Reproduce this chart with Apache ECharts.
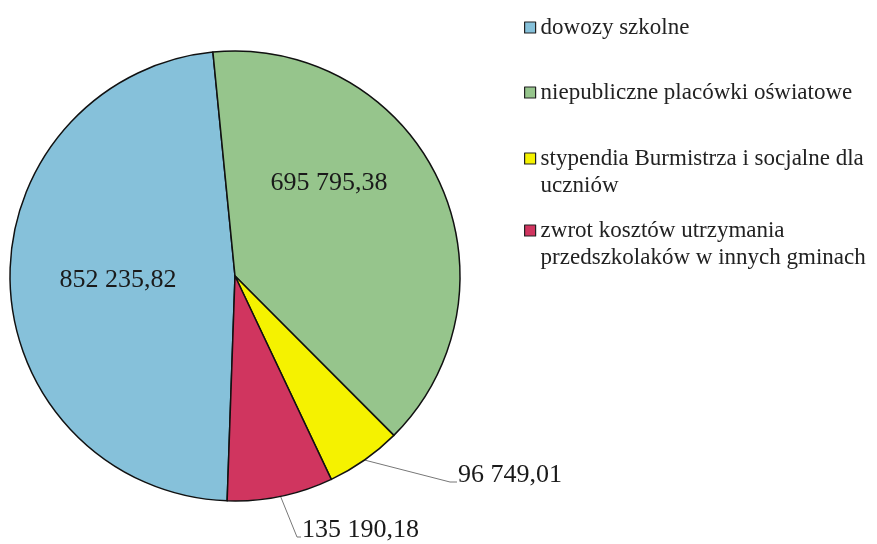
<!DOCTYPE html>
<html>
<head>
<meta charset="utf-8">
<script src="https://cdn.jsdelivr.net/npm/echarts@6/dist/echarts.min.js"></script>
<style>
  html, body { margin: 0; padding: 0; background: #fff; }
  #main { width: 877px; height: 544px; }
</style>
</head>
<body>
<div id="main"></div>
<script>
// dane z wykresu
const categories = [
  'dowozy szkolne',
  'niepubliczne placówki oświatowe',
  'stypendia Burmistrza i socjalne dla uczniów',
  'zwrot kosztów utrzymania przedszkolaków w innych gminach'
];
const values = [852235.82, 695795.38, 96749.01, 135190.18];
const legendTexts = [
  'dowozy szkolne',
  'niepubliczne placówki oświatowe',
  'stypendia Burmistrza i socjalne dla\nuczniów',
  'zwrot kosztów utrzymania\nprzedszkolaków w innych gminach'
];
const colors = ['#86c1da', '#96c58c', '#f5f200', '#d0355f'];

// polski format liczby: 852 235,82
function fmt(v) {
  let parts = v.toFixed(2).split('.');
  let int = parts[0].replace(/\B(?=(\d{3})+(?!\d))/g, ' ');
  return int + ',' + parts[1];
}

// gdzie stoją etykiety
const labelSpots = [
  {x: 118, y: 280, align: 'center'},
  {x: 329, y: 183, align: 'center'},
  {x: 458, y: 475, align: 'left', bend: [450, 482]},
  {x: 302, y: 530, align: 'left', bend: [297, 537]}
];
const legendTops = [14, 79, 118, 190];

let myChart = echarts.init(document.getElementById('main'));

let legends = categories.map(function (name, i) {
  // pusta linia na górze, żeby kwadracik stał przy pierwszej linii tekstu
  let txt = legendTexts[i].indexOf('\n') >= 0 ? '\n' + legendTexts[i] : legendTexts[i];
  return {
    data: [name],
    left: 524,
    top: legendTops[i],
    orient: 'vertical',
    padding: 0,
    icon: 'rect',
    itemWidth: 11,
    itemHeight: 11,
    selectedMode: false,
    itemStyle: {borderColor: '#222', borderWidth: 1.2},
    formatter: function () { return txt; },
    textStyle: {
      fontFamily: 'Liberation Serif',
      fontSize: 23,
      lineHeight: 27,
      color: '#222'
    }
  };
});

let option = {
  animation: false,
  color: colors,
  legend: legends,
  series: [{
    type: 'pie',
    center: [235, 276],
    radius: 225,
    startAngle: 268,
    clockwise: true,
    avoidLabelOverlap: false,
    itemStyle: {borderColor: '#111', borderWidth: 1.5},
    label: {
      show: true,
      fontFamily: 'Liberation Serif',
      fontSize: 26,
      color: '#1a1a1a',
      formatter: function (p) { return fmt(p.value); }
    },
    labelLine: {show: true, length: 10, length2: 10, lineStyle: {color: '#777', width: 1}},
    labelLayout: function (params) {
      let s = labelSpots[params.dataIndex];
      let res = {x: s.x, y: s.y, align: s.align, verticalAlign: 'middle'};
      if (s.bend && params.labelLinePoints) {
        res.labelLinePoints = [
          params.labelLinePoints[0],
          s.bend,
          [s.x - 1, s.bend[1]]
        ];
      }
      return res;
    },
    data: categories.map(function (name, i) {
      let inside = i < 2;
      return {
        name: name,
        value: values[i],
        label: {position: inside ? 'inside' : 'outside'},
        labelLine: {show: !inside}
      };
    })
  }]
};

myChart.setOption(option);
window.onresize = myChart.resize;
</script>
</body>
</html>
